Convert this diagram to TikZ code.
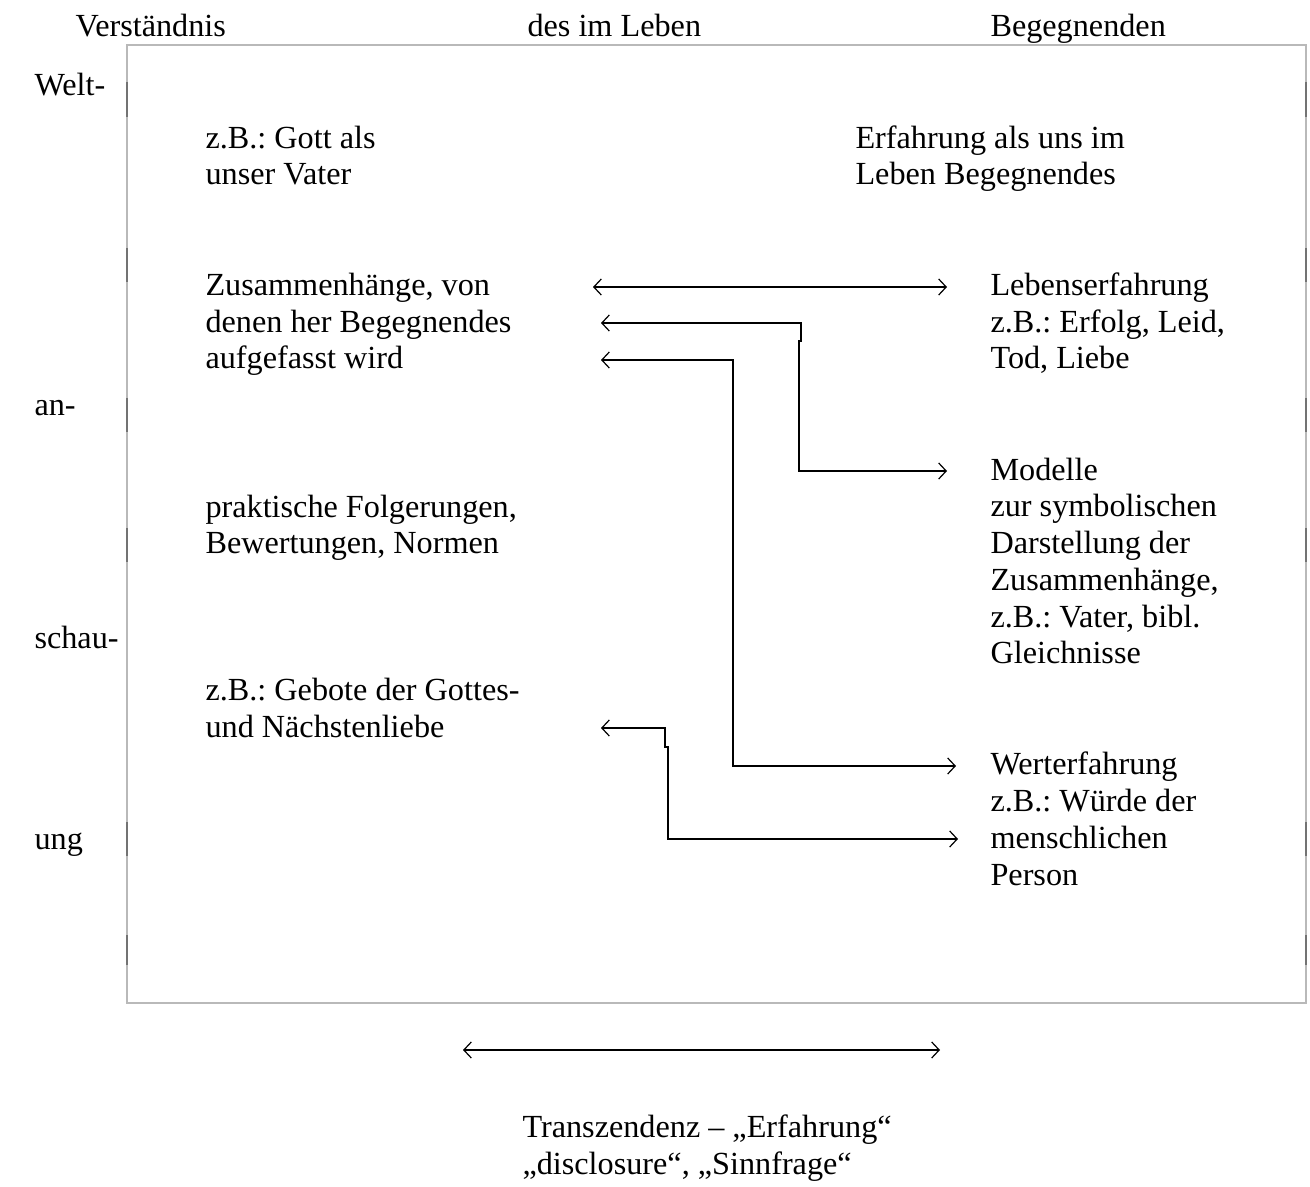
\documentclass[tikz,border=0pt]{standalone}
\usepackage{fontspec}
\setmainfont{Liberation Serif}
\usetikzlibrary{arrows.meta}
\frenchspacing
\begin{document}
\begin{tikzpicture}[x=0.3725pt,y=-0.3725pt,
  txt/.style={anchor=base west, inner sep=0pt, align=left, font=\fontsize{12}{13.7}\selectfont\frenchspacing},
  conn/.style={line width=0.8pt},
  tipline/.style={line width=0.45pt, -{Straight Barb[length=2.8pt,width=6pt]}},
  frame/.style={draw=gray!55, line width=0.45pt},
  framedark/.style={draw=gray!90!black, line width=0.7pt}]
\useasboundingbox (0,0) rectangle (1310,1187);

% frame
\draw[frame] (127,45) rectangle (1306,1003);
\foreach \ya/\yb in {82/117, 248/282, 398/432, 528/562, 822/856, 935/965}{
  \draw[framedark] (127,\ya) -- (127,\yb);
  \draw[framedark] (1306,\ya) -- (1306,\yb);
}

% headings
\node[txt] (t1) at (75,37) {Verständnis};
\node[txt] (t2) at (527,37) {des im Leben};
\node[txt] (t3) at (990,37) {Begegnenden};

% left column
\node[txt] (w1) at (34,96) {Welt-};
\node[txt] (w2) at (34,416) {an-};
\node[txt] (w3) at (34,649) {schau-};
\node[txt] (w4) at (34,849) {ung};

% inner texts (anchored at the baseline of their last line)
\node[txt] (gott) at (205,185) {z.B.: Gott als\\unser Vater};
\node[txt] (erf) at (855,185) {Erfahrung als uns im\\Leben Begegnendes};
\node[txt] (zus) at (205,369) {Zusammenhänge, von\\denen her Begegnendes\\aufgefasst wird};
\node[txt] (leb) at (990,369) {Lebenserfahrung\\z.B.: Erfolg, Leid,\\Tod, Liebe};
\node[txt] (mod) at (990,664) {Modelle\\zur symbolischen\\Darstellung der\\Zusammenhänge,\\z.B.: Vater, bibl.\\Gleichnisse};
\node[txt] (prak) at (205,554) {praktische Folgerungen,\\Bewertungen, Normen};
\node[txt] (geb) at (205,737) {z.B.: Gebote der Gottes-\\und Nächstenliebe};
\node[txt] (wert) at (990,885) {Werterfahrung\\z.B.: Würde der\\menschlichen\\Person};
\node[txt] (trans) at (522,1174) {Transzendenz – „Erfahrung“\\„disclosure“, „Sinnfrage“};

% connector coordinates
\coordinate (a1L) at (593,287); \coordinate (a1l) at (622,287);
\coordinate (a1r) at (918,287); \coordinate (a1R) at (947,287);

\coordinate (a2L) at (601,323); \coordinate (a2l) at (631,323);
\coordinate (a2c1) at (801,323); \coordinate (a2c2) at (801,341);
\coordinate (a2c3) at (799,341); \coordinate (a2c4) at (799,471);
\coordinate (a2r) at (918,471); \coordinate (a2R) at (947,471);

\coordinate (a3L) at (601,360); \coordinate (a3l) at (631,360);
\coordinate (a3c1) at (733,360); \coordinate (a3c2) at (733,766);
\coordinate (a3r) at (927,766); \coordinate (a3R) at (956,766);

\coordinate (a4L) at (601,728); \coordinate (a4l) at (631,728);
\coordinate (a4c1) at (665,728); \coordinate (a4c2) at (665,747);
\coordinate (a4c3) at (668,747); \coordinate (a4c4) at (668,839);
\coordinate (a4r) at (928,839); \coordinate (a4R) at (958,839);

\coordinate (bL) at (463,1050); \coordinate (bl) at (493,1050);
\coordinate (br) at (910,1050); \coordinate (bR) at (940,1050);

% connectors
\draw[conn] (a1l) -- (a1r);
\draw[tipline] (a1l) -- (a1L);
\draw[tipline] (a1r) -- (a1R);

\draw[conn] (a2l) -- (a2c1) -- (a2c2) -- (a2c3) -- (a2c4) -- (a2r);
\draw[tipline] (a2l) -- (a2L);
\draw[tipline] (a2r) -- (a2R);

\draw[conn] (a3l) -- (a3c1) -- (a3c2) -- (a3r);
\draw[tipline] (a3l) -- (a3L);
\draw[tipline] (a3r) -- (a3R);

\draw[conn] (a4l) -- (a4c1) -- (a4c2) -- (a4c3) -- (a4c4) -- (a4r);
\draw[tipline] (a4l) -- (a4L);
\draw[tipline] (a4r) -- (a4R);

\draw[conn] (bl) -- (br);
\draw[tipline] (bl) -- (bL);
\draw[tipline] (br) -- (bR);
\end{tikzpicture}
\end{document}
